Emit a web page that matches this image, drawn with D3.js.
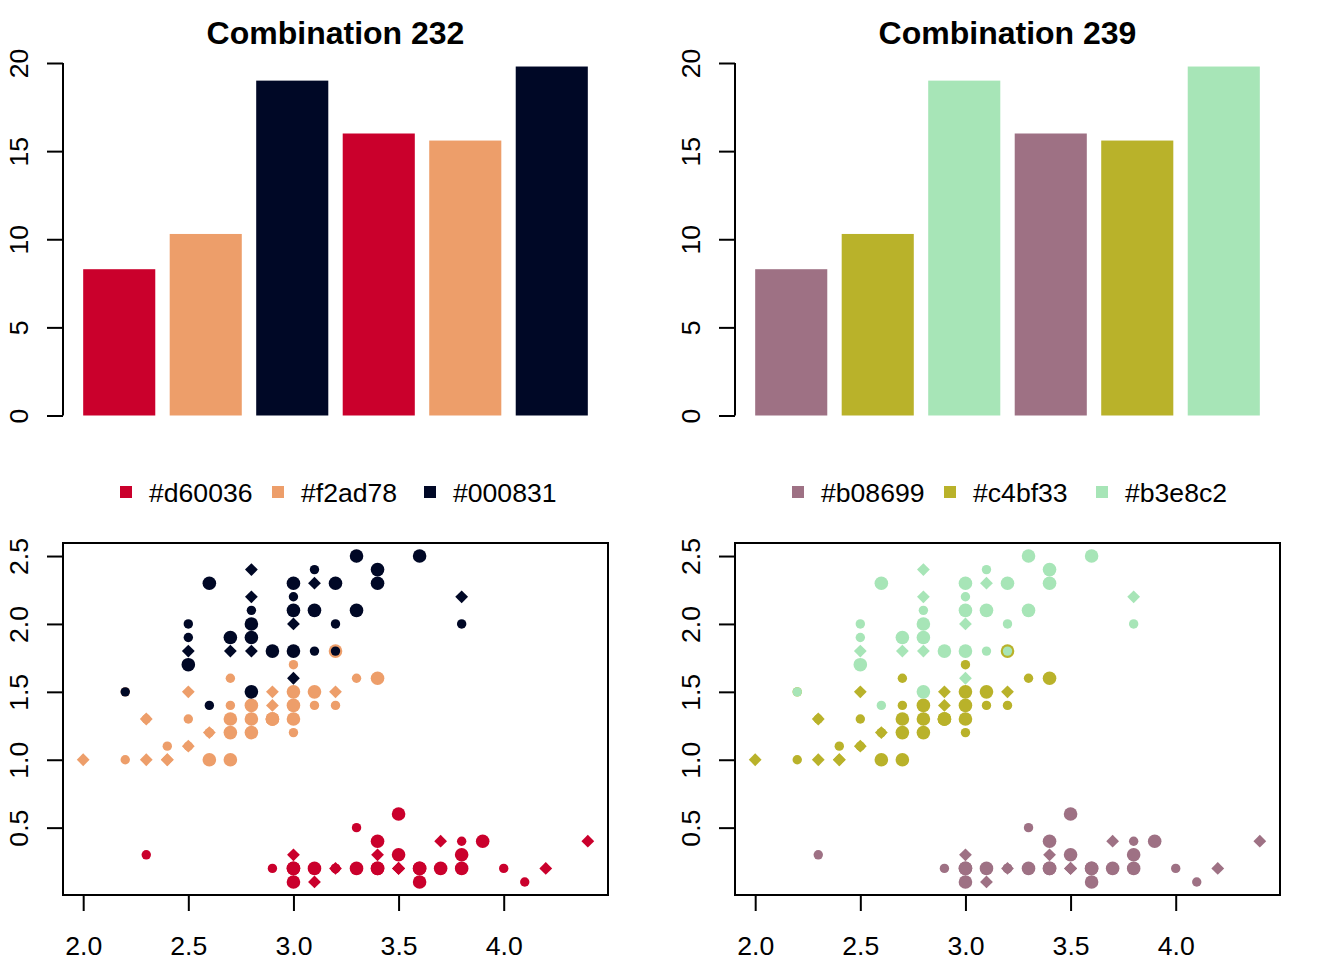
<!DOCTYPE html>
<html>
<head>
<meta charset="utf-8">
<script src="https://cdn.jsdelivr.net/npm/d3@7"></script>
<style>
  html, body { margin: 0; padding: 0; background: #ffffff; }
  svg { display: block; font-family: "Liberation Sans", Arial, Helvetica, sans-serif; }
</style>
</head>
<body>
<svg id="chart" width="1344" height="960"></svg>
<script>
// ---- Data ----
const barValues = [8.3, 10.3, 19.0, 16.0, 15.6, 19.8];
const barTicks = [0, 5, 10, 15, 20];
const titles = ["Combination 232", "Combination 239"];
const legendLabels232 = ["#d60036", "#f2ad78", "#000831"];
const legendLabels239 = ["#b08699", "#c4bf33", "#b3e8c2"];
// rendered colours as seen in the reference
const colors232 = ["#ca002c", "#ed9e6a", "#000826"];
const colors239 = ["#9e7184", "#b9b22a", "#a7e5b7"];
const xTicks = [2.0, 2.5, 3.0, 3.5, 4.0];
const yTicks = [0.5, 1.0, 1.5, 2.0, 2.5];

// iris: Sepal.Width and Petal.Width per species (rows in order)
const setosaSW = [3.5,3.0,3.2,3.1,3.6,3.9,3.4,3.4,2.9,3.1,3.7,3.4,3.0,3.0,4.0,4.4,3.9,3.5,3.8,3.8,3.4,3.7,3.6,3.3,3.4,3.0,3.4,3.5,3.4,3.2,3.1,3.4,4.1,4.2,3.1,3.2,3.5,3.6,3.0,3.4,3.5,2.3,3.2,3.5,3.8,3.0,3.8,3.2,3.7,3.3];
const setosaPW = [0.2,0.2,0.2,0.2,0.2,0.4,0.3,0.2,0.2,0.1,0.2,0.2,0.1,0.1,0.2,0.4,0.4,0.3,0.3,0.3,0.2,0.4,0.2,0.5,0.2,0.2,0.4,0.2,0.2,0.2,0.2,0.4,0.1,0.2,0.2,0.2,0.2,0.1,0.2,0.2,0.3,0.3,0.2,0.6,0.4,0.3,0.2,0.2,0.2,0.2];
const versicolorSW = [3.2,3.2,3.1,2.3,2.8,2.8,3.3,2.4,2.9,2.7,2.0,3.0,2.2,2.9,2.9,3.1,3.0,2.7,2.2,2.5,3.2,2.8,2.5,2.8,2.9,3.0,2.8,3.0,2.9,2.6,2.4,2.4,2.7,2.7,3.0,3.4,3.1,2.3,3.0,2.5,2.6,3.0,2.6,2.3,2.7,3.0,2.9,2.9,2.5,2.8];
const versicolorPW = [1.4,1.5,1.5,1.3,1.5,1.3,1.6,1.0,1.3,1.4,1.0,1.5,1.0,1.4,1.3,1.4,1.5,1.0,1.5,1.1,1.8,1.3,1.5,1.2,1.3,1.4,1.4,1.7,1.5,1.0,1.1,1.0,1.2,1.6,1.5,1.6,1.5,1.3,1.3,1.3,1.2,1.4,1.2,1.0,1.3,1.2,1.3,1.3,1.1,1.3];
const virginicaSW = [3.3,2.7,3.0,2.9,3.0,3.0,2.5,2.9,2.5,3.6,3.2,2.7,3.0,2.5,2.8,3.2,3.0,3.8,2.6,2.2,3.2,2.8,2.8,2.7,3.3,3.2,2.8,3.0,2.8,3.0,2.8,3.8,2.8,2.8,2.6,3.0,3.4,3.1,3.0,3.1,3.1,3.1,2.7,3.2,3.3,3.0,2.5,3.0,3.4,3.0];
const virginicaPW = [2.5,1.9,2.1,1.8,2.2,2.1,1.7,1.8,1.8,2.5,2.0,1.9,2.1,2.0,2.4,2.3,1.8,2.2,2.3,1.5,2.3,2.0,2.0,1.8,2.1,1.8,1.8,1.8,2.1,1.6,1.9,2.0,2.2,1.5,1.4,2.3,2.4,1.8,1.8,2.1,2.4,2.3,1.9,2.3,2.5,2.3,1.9,2.0,2.3,1.8];
const barGroup = [0, 1, 2, 0, 1, 2];           // colour index of each bar
const symbolCycle = ["diamond", "circle", "dot"]; // pch 18, 19, 20 recycled by row

// ---- Build point table ----
const points = [];
[[setosaSW, setosaPW], [versicolorSW, versicolorPW], [virginicaSW, virginicaPW]].forEach((s, g) => {
  s[0].forEach((sw, i) => points.push({ sw, pw: s[1][i], g }));
});
points.forEach((p, i) => { p.shape = symbolCycle[i % 3]; });

const svg = d3.select("#chart");
const FONT = 26.6;

function panel(offsetX, colors, legendLabels, title) {
  const L = 63 + offsetX, R = 608 + offsetX;
  const g = svg.append("g");

  // --- bar chart ---
  const bx = d3.scaleLinear().domain([0.2 - 0.28, 7.2 + 0.28]).range([L, R]);
  const by = d3.scaleLinear().domain([0, 20]).range([415.5, 63]);
  g.selectAll("rect.bar").data(barValues).join("rect")
    .attr("x", (d, i) => bx(0.2 + 1.2 * i))
    .attr("width", bx(1) - bx(0))
    .attr("y", d => by(d))
    .attr("height", d => by(0) - by(d))
    .attr("fill", (d, i) => colors[barGroup[i]]);

  const ya = d3.axisLeft(by).tickValues(barTicks).tickSize(16).tickPadding(0).tickFormat(d3.format("d"));
  const yag = g.append("g").attr("transform", `translate(${L},0)`).call(ya);
  styleAxis(yag);
  yag.select(".domain").attr("d", `M0,${by(0)}V${by(20)}`);
  yag.selectAll(".tick text")
    .attr("transform", "rotate(-90)")
    .attr("x", 0).attr("y", -35)
    .attr("dy", 0)
    .attr("text-anchor", "middle");

  g.append("text")
    .attr("x", (L + R) / 2).attr("y", 44)
    .attr("text-anchor", "middle")
    .attr("font-weight", "bold")
    .attr("font-size", 32)
    .text(title);

  // --- legend ---
  const lx0 = (L + R) / 2 - 209.5;
  legendLabels.forEach((lab, i) => {
    const cx = lx0 + 152 * i;
    g.append("rect").attr("x", cx - 6).attr("y", 486).attr("width", 12).attr("height", 12).attr("fill", colors[i]);
    g.append("text").attr("x", cx + 23).attr("y", 501.5).attr("font-size", FONT).text(lab);
  });

  // --- scatter ---
  const sx = d3.scaleLinear().domain([2.0 - 0.096, 4.4 + 0.096]).range([L, R]);
  const sy = d3.scaleLinear().domain([0.1 - 0.096, 2.5 + 0.096]).range([895, 543]);

  const pts = g.append("g");
  points.forEach(p => {
    const x = sx(p.sw), y = sy(p.pw), c = colors[p.g];
    if (p.shape === "circle") {
      pts.append("circle").attr("cx", x).attr("cy", y).attr("r", 6.8).attr("fill", c);
    } else if (p.shape === "dot") {
      pts.append("circle").attr("cx", x).attr("cy", y).attr("r", 4.7).attr("fill", c);
    } else {
      const h = 6.4;
      pts.append("path").attr("d", `M${x - h},${y}L${x},${y - h}L${x + h},${y}L${x},${y + h}Z`).attr("fill", c);
    }
  });

  g.append("rect").attr("x", L).attr("y", 543).attr("width", R - L).attr("height", 352)
    .attr("fill", "none").attr("stroke", "#000").attr("stroke-width", 2);

  const xa = d3.axisBottom(sx).tickValues(xTicks).tickSize(16).tickPadding(0).tickFormat(d3.format(".1f"));
  const xag = g.append("g").attr("transform", `translate(0,895)`).call(xa);
  styleAxis(xag);
  xag.select(".domain").remove();
  xag.selectAll(".tick text").attr("y", 60).attr("dy", 0);

  const sya = d3.axisLeft(sy).tickValues(yTicks).tickSize(16).tickPadding(0).tickFormat(d3.format(".1f"));
  const syag = g.append("g").attr("transform", `translate(${L},0)`).call(sya);
  styleAxis(syag);
  syag.select(".domain").remove();
  syag.selectAll(".tick text")
    .attr("transform", "rotate(-90)")
    .attr("x", 0).attr("y", -35)
    .attr("dy", 0)
    .attr("text-anchor", "middle");
}

function styleAxis(sel) {
  sel.attr("font-family", null).attr("font-size", null);
  sel.selectAll("path.domain").attr("stroke", "#000").attr("stroke-width", 2);
  sel.selectAll(".tick line").attr("stroke", "#000").attr("stroke-width", 2);
  sel.selectAll(".tick text").attr("fill", "#000").attr("font-size", FONT);
}

panel(0, colors232, legendLabels232, titles[0]);
panel(672, colors239, legendLabels239, titles[1]);
</script>
</body>
</html>
